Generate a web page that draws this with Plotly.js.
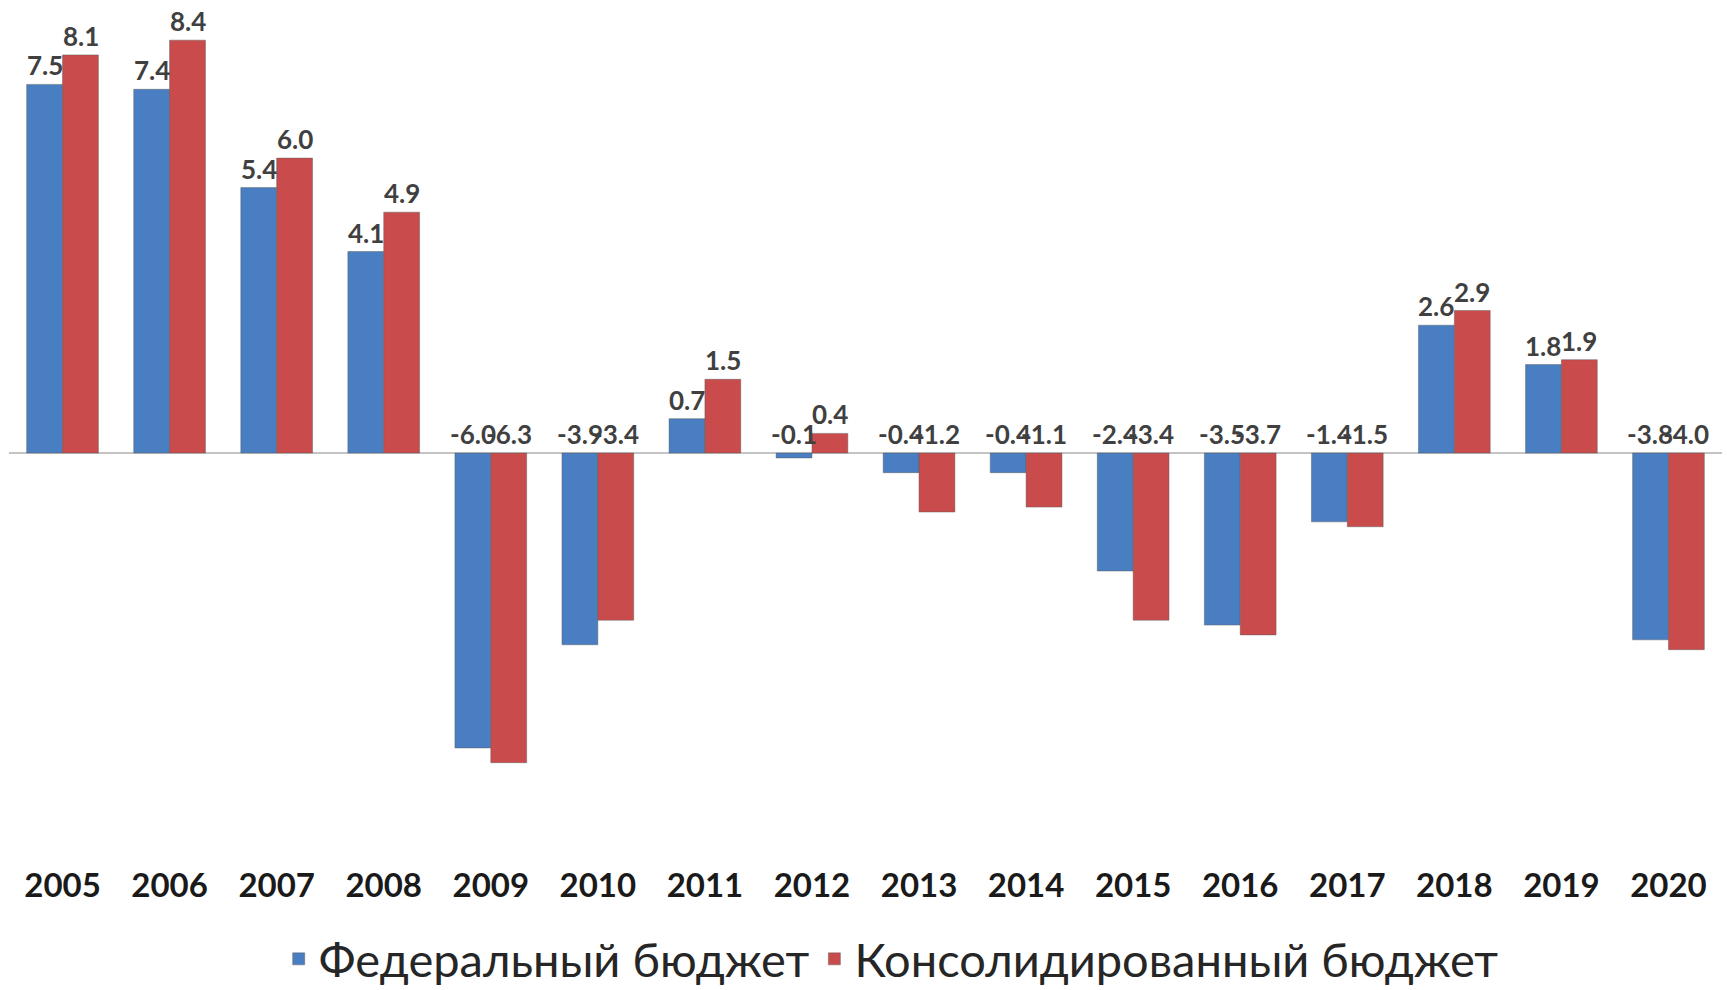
<!DOCTYPE html>
<html>
<head>
<meta charset="utf-8">
<script src="https://cdn.plot.ly/plotly-3.0.1.min.js"></script>
<style>html,body{margin:0;padding:0;background:#fff;}#chart{width:1727px;height:990px;}</style>
</head>
<body>
<div id="chart"></div>
<script>
const years = ["2005","2006","2007","2008","2009","2010","2011","2012","2013","2014","2015","2016","2017","2018","2019","2020"];
const federal = [7.5, 7.4, 5.4, 4.1, -6.0, -3.9, 0.7, -0.1, -0.4, -0.4, -2.4, -3.5, -1.4, 2.6, 1.8, -3.8];
const consolidated = [8.1, 8.4, 6.0, 4.9, -6.3, -3.4, 1.5, 0.4, -1.2, -1.1, -3.4, -3.7, -1.5, 2.9, 1.9, -4.0];
const seriesNames = ["Федеральный бюджет", "Консолидированный бюджет"];

const blue = "#4a7ec2", red = "#c94b4b";
const font = "Lato, 'Open Sans', sans-serif";

const traces = [
  {type:"bar", name:seriesNames[0], x:years, y:federal,
   marker:{color:blue, line:{color:"rgba(90,90,90,0.45)", width:1}}, hoverinfo:"x+y"},
  {type:"bar", name:seriesNames[1], x:years, y:consolidated,
   marker:{color:red, line:{color:"rgba(90,90,90,0.45)", width:1}}, hoverinfo:"x+y"}
];

const annotations = [];
const shift = 18;
[[federal,-shift],[consolidated,shift]].forEach(([vals, xs]) => {
  vals.forEach((v, i) => {
    annotations.push({
      x: i, y: Math.max(v, 0), xref:"x", yref:"y",
      text: v.toFixed(1), showarrow:false, xshift: xs, yanchor:"bottom", yshift: 1,
      font:{family:font, size:26, color:"#404040", weight:"bold"}
    });
  });
});

const layout = {
  width:1727, height:990,
  margin:{l:9, r:5, t:20, b:128},
  paper_bgcolor:"#fff", plot_bgcolor:"#fff",
  barmode:"group", bargap:0.33, bargroupgap:0,
  showlegend:true,
  legend:{orientation:"h", x:0.515, xanchor:"center", yref:"container", y:0.031, yanchor:"middle",
          font:{family:font, size:47, color:"#262626"}, itemwidth:30},
  xaxis:{type:"category", range:[-0.5, years.length - 0.5], autorange:false,
         showline:false, showgrid:false, ticks:"", ticklabelstandoff:1,
         tickfont:{family:font, size:33, color:"#1a1a1a", weight:"bold"}},
  yaxis:{range:[-8.32, 8.81], autorange:false, showticklabels:false, showgrid:false, ticks:"",
         zeroline:true, zerolinecolor:"#c4c4c4", zerolinewidth:2},
  annotations:annotations
};

Plotly.newPlot("chart", traces, layout, {displayModeBar:false, staticPlot:true});
</script>
</body>
</html>
